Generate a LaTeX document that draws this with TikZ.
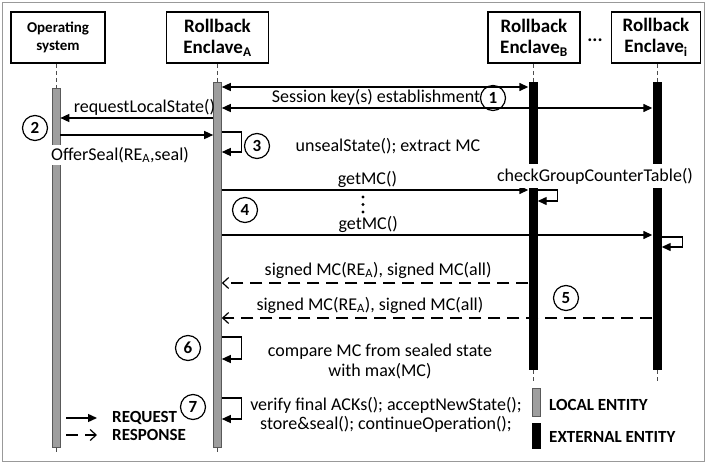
\documentclass[tikz,border=0pt]{standalone}
\usepackage{fontspec}
\setmainfont{Carlito}
\usetikzlibrary{arrows.meta,positioning}

\begin{document}
\begin{tikzpicture}[x=1pt,y=-1pt,>={Triangle[length=9pt,width=8pt]},
 every node/.style={font=\fontsize{18}{20}\selectfont,align=center,inner sep=1pt},
 actor/.style={draw,line width=1.8pt,minimum height=51pt,
   font=\bfseries\fontsize{19}{21}\selectfont},
 localbar/.style={draw=black!65,fill=black!38,line width=0.6pt,minimum width=8pt,
   inner sep=0pt,anchor=north},
 extbar/.style={fill=black,minimum width=9pt,inner sep=0pt,anchor=north},
 life/.style={black!70,line width=0.8pt,dash pattern=on 4pt off 3pt},
 req/.style={line width=1.4pt},
 loopline/.style={line width=1.3pt,->},
 resp/.style={line width=1.2pt,dash pattern=on 12pt off 7pt,
   -{Straight Barb[length=6pt,width=11pt]}},
 stepnum/.style={circle,draw,line width=1.2pt,minimum size=25pt,inner sep=0pt,
   font=\bfseries\fontsize{17}{17}\selectfont},
 legendtxt/.style={anchor=west,font=\bfseries\fontsize{17}{20}\selectfont}]
    \useasboundingbox (0,0) rectangle (710,466);
    \draw[black!40,line width=1pt] (2,2) rectangle (704,461);

    % participants
    \node[actor,minimum width=94pt,font=\bfseries\fontsize{15}{18}\selectfont]
      (os) at (58,37.5) {Operating\\system};
    \node[actor,minimum width=102pt] (rea) at (217.5,37.5) {Rollback\\Enclave\textsubscript{A}};
    \node[actor,minimum width=92pt] (reb) at (534,37.5) {Rollback\\Enclave\textsubscript{B}};
    \node[actor,minimum width=89pt] (rei) at (656,37.5) {Rollback\\Enclave\textsubscript{i}};
    \node[font=\bfseries\fontsize{19}{21}\selectfont] (ellip) at (595,40) {...};

    % activation bars
    \node[localbar,minimum height=359pt] (osbar) at (56,88) {};
    \node[localbar,minimum height=365pt] (abar) at (217.5,82) {};
    \node[extbar,minimum height=288pt] (bbar) at (533,82) {};
    \node[extbar,minimum height=288pt] (ibar) at (657,82) {};
    \foreach \a/\b in {os/osbar,rea/abar,reb/bbar,rei/ibar}{
      \draw[life] (\a.south -| \b) -- (\b.north);
    }
    \draw[life] (osbar.south) -- ++(0,6);
    \draw[life] (abar.south) -- ++(0,6);
    \draw[life] (bbar.south) -- ++(0,12);
    \draw[life] (ibar.south) -- ++(0,12);

    % message rows
    \coordinate (m1) at (0,87);
    \coordinate (m2) at (0,108);
    \coordinate (m3) at (0,118);
    \coordinate (m4) at (0,135);
    \coordinate (m5) at (0,132);
    \coordinate (m6) at (0,190);
    \coordinate (m7) at (0,235);
    \coordinate (m8) at (0,283);
    \coordinate (m9) at (0,318);
    \coordinate (m10) at (0,337);
    \coordinate (m11) at (0,398);

    % step 1
    \draw[req,<->] (abar.east |- m1) -- (bbar.west |- m1);
    \draw[req,<->] (abar.east |- m2) -- (ibar.west |- m2);
    \node (session) at (376,97) {Session key(s) establishment};
    \node[stepnum] (n1) at (493,98) {1};

    % step 2
    \draw[req,->] (abar.west |- m3) -- (osbar.east |- m3)
      node[pos=0.45,above=1pt] (reqls) {requestLocalState()};
    \draw[req,->] (osbar.east |- m4) -- (abar.west |- m4);
    \node[fill=white,anchor=west,inner sep=2pt] (offer) at (49,155) {OfferSeal(RE\textsubscript{A},seal)};
    \node[stepnum] (n2) at (35,128) {2};

    % step 3
    \draw[loopline] (abar.east |- m5) -- ++(20,0) -- ++(0,20) -- ++(-20,0);
    \node[stepnum] (n3) at (257,146) {3};
    \node (unseal) at (388,146) {unsealState(); extract MC};

    % step 4
    \draw[req,->] (abar.east |- m6) -- (bbar.west |- m6)
      node[pos=0.475,above=1pt] (get1) {getMC()};
    \draw[req,->] (abar.east |- m7) -- (ibar.west |- m7)
      node[pos=0.34,above=1pt] (get2) {getMC()};
    \foreach \y in {197,204.5,212} \fill (363,\y) circle (1.6pt);
    \node[stepnum] (n4) at (245,210) {4};
    \node[fill=white,minimum height=24pt] (check) at (595,176) {checkGroupCounterTable()};
    \draw[loopline] (bbar.east |- m6) -- ++(20,0) -- ++(0,11) -- ++(-20,0);
    \draw[loopline] (ibar.east |- m7) ++(0,2) -- ++(21,0) -- ++(0,10) -- ++(-21,0);

    % step 5
    \draw[resp] (bbar.west |- m8) -- (abar.east |- m8)
      node[pos=0.49,above=3pt] (sig1) {signed MC(RE\textsubscript{A}), signed MC(all)};
    \draw[resp] (ibar.west |- m9) -- (abar.east |- m9)
      node[pos=0.656,above=3pt] (sig2) {signed MC(RE\textsubscript{A}), signed MC(all)};
    \node[stepnum] (n5) at (566,298) {5};

    % step 6
    \draw[loopline] (abar.east |- m10) -- ++(20,0) -- ++(0,22) -- ++(-20,0);
    \node[stepnum] (n6) at (188,348) {6};
    \node (compare) at (380,361) {compare MC from sealed state\\with max(MC)};

    % step 7
    \draw[loopline] (abar.east |- m11) -- ++(20,0) -- ++(0,21) -- ++(-20,0);
    \node[stepnum] (n7) at (193,407) {7};
    \node[font=\fontsize{18}{19}\selectfont] (verify) at (386,415)
      {verify final ACKs(); acceptNewState();\\store\&seal(); continueOperation();};

    % legend
    \node[legendtxt] (reqtxt) at (111,418) {REQUEST};
    \node[legendtxt] (resptxt) at (111,435) {RESPONSE};
    \draw[req,->] ([xshift=-45pt]reqtxt.west) -- ([xshift=-14pt]reqtxt.west);
    \draw[resp] ([xshift=-45pt]resptxt.west) -- ([xshift=-14pt]resptxt.west);
    \node[localbar,minimum height=28pt] (lbox) at (536.5,388) {};
    \node[extbar,minimum height=26pt] (ebox) at (536.5,423) {};
    \node[legendtxt] (ltxt) at (548,405) {LOCAL ENTITY};
    \node[legendtxt] (etxt) at (548,437) {EXTERNAL ENTITY};
\end{tikzpicture}
\end{document}
